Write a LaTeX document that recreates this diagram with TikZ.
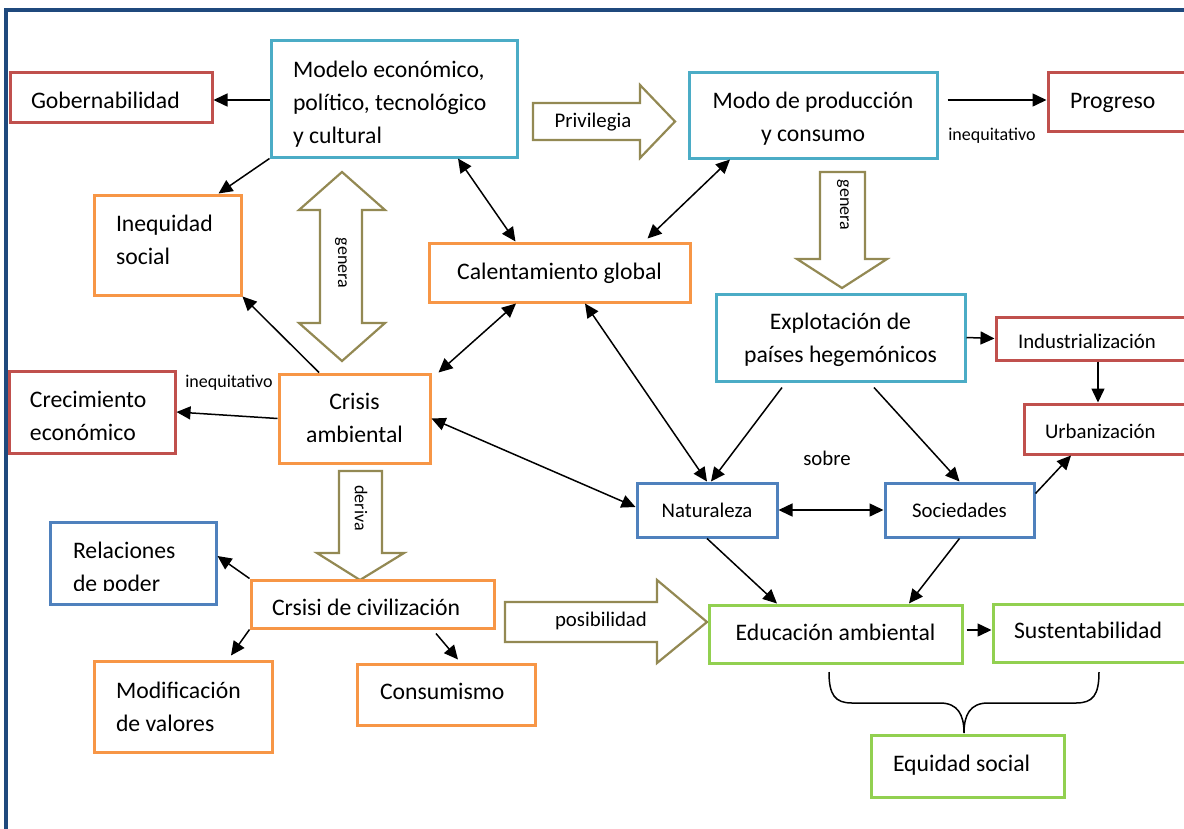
\documentclass[tikz,border=0pt]{standalone}
\usepackage{fontspec}
\setmainfont{Carlito}
\usetikzlibrary{arrows.meta}

\definecolor{cred}{HTML}{C0504D}
\definecolor{ccyan}{HTML}{4BACC6}
\definecolor{corange}{HTML}{F79646}
\definecolor{cblue}{HTML}{4F81BD}
\definecolor{cgreen}{HTML}{92D050}
\definecolor{colive}{HTML}{938953}
\definecolor{cframe}{HTML}{1F497D}

\newcommand\fsMain{\fontsize{23.7}{33}\selectfont}
\newcommand\fsMid{\fontsize{20.8}{28}\selectfont}
\newcommand\fsSmall{\fontsize{18}{22}\selectfont}

\begin{document}
\begin{tikzpicture}[x=1pt,y=-1pt,
  box/.style={draw, line width=3pt, inner sep=0pt, fill=white},
  txt/.style={inner sep=0pt, font=\fsMain},
  ltxt/.style={txt, align=left, execute at begin node={\spaceskip=0pt\xspaceskip=0pt}},
  ctxt/.style={txt, align=center},
  conn/.style={line width=1.5pt, -{Triangle[length=14pt,width=13pt]}},
  dconn/.style={line width=1.5pt, {Triangle[length=14pt,width=13pt]}-{Triangle[length=14pt,width=13pt]}},
  blockarrow/.style={draw=colive, line width=2.2pt, fill=white, line join=miter},
  lbl/.style={inner sep=0pt}
]
\useasboundingbox (0,0) rectangle (1184,828);

% outer frame
\draw[cframe, line width=3.5pt] (6,860) -- (6,10) -- (1200,10);

% block arrows
\draw[blockarrow] (533,103) -- (640,103) -- (640,85) -- (675,121.5) -- (640,158) -- (640,140) -- (533,140) -- cycle;
\node[lbl, font=\fsMid] (privtext) at (593,122) {Privilegia};

\draw[blockarrow] (342,172) -- (385,210) -- (362,210) -- (362,323) -- (385,323) -- (342,361) -- (299,323) -- (320,323) -- (320,210) -- (299,210) -- cycle;
\node[lbl, font=\fsSmall, rotate=-90] (generaA) at (341,263) {genera};

\draw[blockarrow] (820,172) -- (865,172) -- (865,259) -- (887,259) -- (842,288) -- (797,259) -- (820,259) -- cycle;
\node[lbl, font=\fsSmall, rotate=-90] (generaB) at (843,205) {genera};

\draw[blockarrow] (339,471) -- (382,471) -- (382,553) -- (404,553) -- (360,580) -- (317,553) -- (339,553) -- cycle;
\node[lbl, font=\fsSmall, rotate=-90] (deriva) at (361,508) {deriva};

\draw[blockarrow] (505,602) -- (657,602) -- (657,580) -- (707,622) -- (657,663) -- (657,642) -- (505,642) -- cycle;
\node[lbl, font=\fsMid] (posib) at (601,621) {posibilidad};

% boxes
\node[box, draw=cred, minimum width=202pt, minimum height=50pt] (gob) at (111,97) {};
\node[ltxt, text width=160pt] (gobT) at (111,100) {Gobernabilidad};

\node[box, draw=ccyan, minimum width=246pt, minimum height=117pt] (modelo) at (394,98.5) {};
\node[ltxt, text width=202pt] (modeloT) at (394,104.5) {Modelo económico,\\político, tecnológico\\y cultural};

\node[box, draw=ccyan, minimum width=248pt, minimum height=86pt] (modo) at (813,115) {};
\node[ctxt] (modoT) at (813,118.5) {Modo de producción\\y consumo};

\node[box, draw=cred, minimum width=152pt, minimum height=59pt] (progreso) at (1124,101.5) {};
\node[ltxt, text width=108pt] (progresoT) at (1124,102.5) {Progreso};

\node[box, draw=corange, minimum width=147pt, minimum height=100pt] (inequidad) at (167.5,245) {};
\node[ltxt, text width=103pt] (inequidadT) at (167.5,240) {Inequidad\\social};

\node[box, draw=corange, minimum width=261pt, minimum height=59pt] (calent) at (559.5,272.5) {};
\node[ctxt] (calentT) at (559.5,273.5) {Calentamiento global};

\node[box, draw=ccyan, minimum width=249pt, minimum height=87pt] (explot) at (840.5,337.5) {};
\node[ctxt] (explotT) at (840.5,340) {Explotación de\\países hegemónicos};

\node[box, draw=cred, minimum width=204pt, minimum height=43pt] (indus) at (1098,338.5) {};
\node[ltxt, text width=160pt, font=\fsMid] (indusT) at (1098,341.5) {Industrialización};

\node[box, draw=cred, minimum width=176pt, minimum height=50pt] (urban) at (1112,429) {};
\node[ltxt, text width=134pt, font=\fsMid] (urbanT) at (1112,431) {Urbanización};

\node[box, draw=cred, minimum width=166pt, minimum height=82pt] (crec) at (92,412) {};
\node[ltxt, text width=124pt] (crecT) at (92,415.5) {Crecimiento\\económico};

\node[box, draw=corange, minimum width=151pt, minimum height=89pt] (crisis) at (354.5,418.5) {};
\node[ctxt] (crisisT) at (354.5,417.5) {Crisis\\ambiental};

\node[box, draw=cblue, minimum width=140pt, minimum height=54pt] (natur) at (707,510) {};
\node[ctxt, font=\fsMid] (naturT) at (707,510) {Naturaleza};

\node[box, draw=cblue, minimum width=149pt, minimum height=54pt] (socied) at (959.5,510) {};
\node[ctxt, font=\fsMid] (sociedT) at (959.5,510) {Sociedades};

\node[box, draw=cblue, minimum width=166pt, minimum height=82pt] (relac) at (133,563) {};
\begin{scope}
  \clip (52,524) rectangle (214,590);
  \node[ltxt, text width=120pt] (relacT) at (133,569) {Relaciones\\de poder};
\end{scope}

\node[box, draw=corange, minimum width=243pt, minimum height=48pt] (civil) at (372.5,604) {};
\node[ltxt, text width=201pt] (civilT) at (372.5,607) {Crsisi de civilización};

\node[box, draw=corange, minimum width=178pt, minimum height=91pt] (modif) at (183,706.5) {};
\node[ltxt, text width=134pt] (modifT) at (183,706.5) {Modificación\\de valores};

\node[box, draw=corange, minimum width=178pt, minimum height=61pt] (consum) at (446,694.5) {};
\node[ltxt, text width=132pt] (consumT) at (446,691.5) {Consumismo};

\node[box, draw=cgreen, minimum width=253pt, minimum height=58pt] (educ) at (835.5,634) {};
\node[ctxt] (educT) at (835.5,632) {Educación ambiental};

\node[box, draw=cgreen, minimum width=207pt, minimum height=58pt] (sust) at (1096.5,633) {};
\node[ltxt, text width=165pt] (sustT) at (1096.5,630) {Sustentabilidad};

\node[box, draw=cgreen, minimum width=193pt, minimum height=62pt] (equid) at (967.5,766) {};
\node[ltxt, text width=149pt] (equidT) at (967.5,765) {Equidad social};

% free labels
\node[lbl, font=\fsSmall] (ineqA) at (992,136) {inequitativo};
\node[lbl, font=\fsSmall] (ineqB) at (229,383) {inequitativo};
\node[lbl, font=\fsMid] (sobre) at (827,458) {sobre};

% connectors
\draw[conn] ([yshift=-1.5pt]modelo.west) -- ([yshift=-1.5pt]modelo.west -| gob.east);
\draw[conn] (modelo.south west) -- ([xshift=-24pt]inequidad.north east);
\draw[dconn] ([xshift=64pt]modelo.south) -- ([xshift=-44pt]calent.north);
\draw[dconn] ([xshift=-83pt]modo.south) -- ([xshift=88pt,yshift=3pt]calent.north);
\draw[conn] ([xshift=9pt,yshift=15pt]modo.east) -- ([yshift=15pt]modo.east -| progreso.west);
\draw[conn] ([xshift=-35.5pt]crisis.north) -- (inequidad.south east);
\draw[conn] (crisis.west) -- (crec.east);
\draw[dconn] ([xshift=7pt]crisis.north east) -- ([xshift=-43.5pt]calent.south);
\draw[dconn] ([xshift=25.5pt]calent.south) -- (natur.north);
\draw[dconn] (crisis.east) -- ([yshift=3pt]natur.west);
\draw[conn] ([xshift=-58.5pt,yshift=-5pt]explot.south) -- ([xshift=4pt]natur.north);
\draw[conn] ([xshift=33.5pt,yshift=-5pt]explot.south) -- (socied.north);
\draw[dconn] (natur.east) -- (socied.west);
\draw[conn] ([yshift=-12pt]socied.north east) -- ([xshift=-41pt]urban.south);
\draw[conn] (explot.east) -- (indus.west);
\draw[conn] (indus.south) -- (indus.south |- urban.north);
\draw[conn] (natur.south) -- ([xshift=-58.5pt]educ.north);
\draw[conn] (socied.south) -- ([xshift=73.5pt]educ.north);
\draw[conn] ([xshift=3pt,yshift=4pt]educ.east) -- ([yshift=4pt]educ.east -| sust.west);
\draw[conn] (civil.north west) -- ([yshift=7pt]relac.east);
\draw[conn] (civil.south west) -- ([xshift=48pt,yshift=4pt]modif.north);
\draw[conn] ([xshift=63.5pt,yshift=-4pt]civil.south) -- ([xshift=12pt,yshift=3pt]consum.north);

% brace grouping the two outcomes
\draw[line width=1.5pt] (829,672) .. controls (829,695) and (835,703) .. (852,703) -- (940,703)
  .. controls (958,703) and (964,715) .. (964,733)
  .. controls (964,715) and (970,703) .. (988,703) -- (1076,703)
  .. controls (1093,703) and (1099,695) .. (1099,672);
\end{tikzpicture}
\end{document}
